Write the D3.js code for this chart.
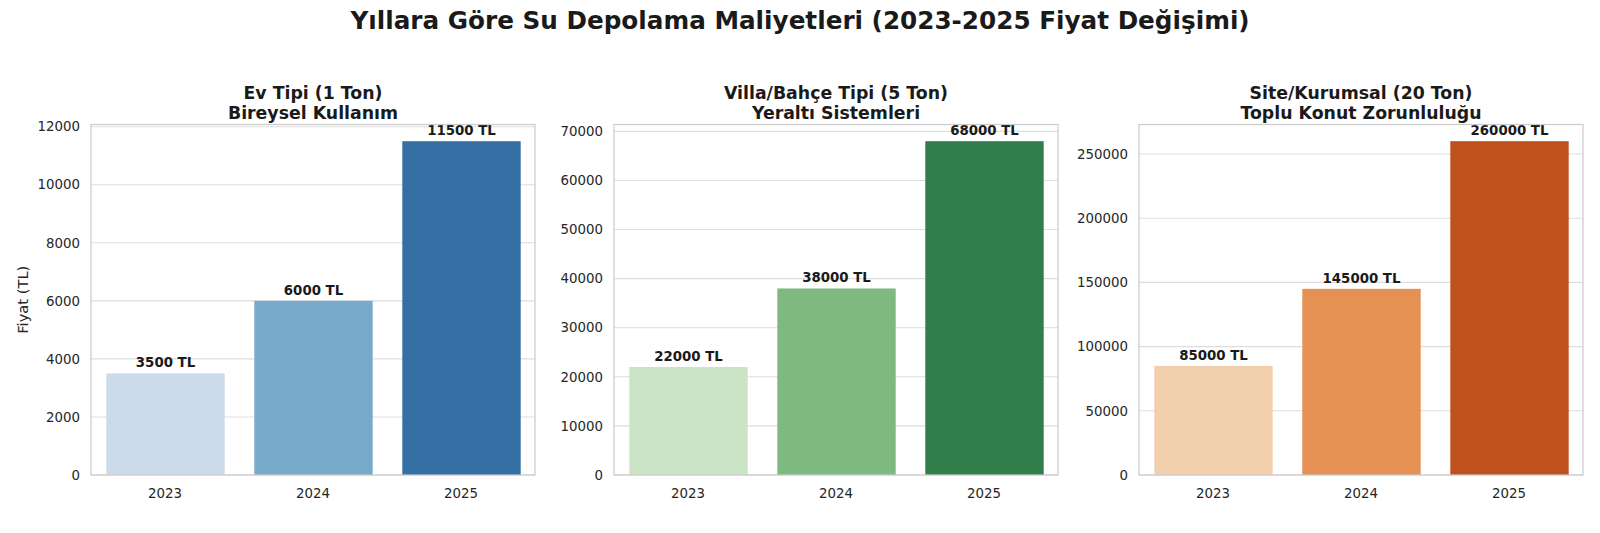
<!DOCTYPE html>
<html lang="tr">
<head>
<meta charset="UTF-8">
<title>Su Depolama Maliyetleri</title>
<script src="https://d3js.org/d3.v7.min.js"></script>
<style>
  body { margin: 0; background: #fff; }
  svg { display: block; font-family: "DejaVu Sans", sans-serif; }
  .tick text { fill: #262626; font-size: 13.33px; font-family: "DejaVu Sans", sans-serif; }
</style>
</head>
<body>
<svg id="chart" width="1600" height="533"></svg>
<script>
// veriler
const years = ["2023", "2024", "2025"];
const evValues = [3500, 6000, 11500];
const villaValues = [22000, 38000, 68000];
const siteValues = [85000, 145000, 260000];

const evTicks = [0, 2000, 4000, 6000, 8000, 10000, 12000];
const villaTicks = [0, 10000, 20000, 30000, 40000, 50000, 60000, 70000];
const siteTicks = [0, 50000, 100000, 150000, 200000, 250000];

const evColors = ["#cbdbea", "#78abc9", "#3470a3"];
const villaColors = ["#cae4c5", "#7eba80", "#307e4a"];
const siteColors = ["#f2d0ad", "#e59154", "#be511c"];

const panels = [
    { title: ["Ev Tipi (1 Ton)", "Bireysel Kullanım"], values: evValues, ticks: evTicks, colors: evColors, left: 91 },
    { title: ["Villa/Bahçe Tipi (5 Ton)", "Yeraltı Sistemleri"], values: villaValues, ticks: villaTicks, colors: villaColors, left: 614 },
    { title: ["Site/Kurumsal (20 Ton)", "Toplu Konut Zorunluluğu"], values: siteValues, ticks: siteTicks, colors: siteColors, left: 1139 }
];

const plotW = 444;
const plotTop = 124.5;
const plotBottom = 475;

const svg = d3.select("#chart");

// ana başlık
svg.append("text")
    .attr("x", 800)
    .attr("y", 29)
    .attr("text-anchor", "middle")
    .attr("font-size", "24.7px")
    .attr("font-weight", "bold")
    .attr("fill", "#1a1a1a")
    .text("Yıllara Göre Su Depolama Maliyetleri (2023-2025 Fiyat Değişimi)");

panels.forEach((p, i) => {
    const g = svg.append("g").attr("transform", `translate(${p.left},0)`);

    const x = d3.scaleBand()
        .domain(years)
        .range([0, plotW])
        .paddingInner(0.2)
        .paddingOuter(0.1);

    const y = d3.scaleLinear()
        .domain([0, d3.max(p.values) * 1.05])
        .range([plotBottom, plotTop]);

    // grid
    g.append("g")
        .selectAll("line")
        .data(p.ticks)
        .join("line")
        .attr("x1", 0)
        .attr("x2", plotW)
        .attr("y1", d => y(d))
        .attr("y2", d => y(d))
        .attr("stroke", "#dddddd")
        .attr("stroke-width", 1.1);

    // eksenler
    const yAxis = g.append("g")
        .call(d3.axisLeft(y).tickValues(p.ticks).tickSize(0).tickPadding(11).tickFormat(d3.format("d")));
    yAxis.select(".domain").remove();

    const xAxis = g.append("g")
        .attr("transform", `translate(0,${plotBottom})`)
        .call(d3.axisBottom(x).tickSize(0).tickPadding(14));
    xAxis.select(".domain").remove();

    // çubuklar
    g.selectAll("rect.bar")
        .data(p.values)
        .join("rect")
        .attr("class", "bar")
        .attr("x", (d, j) => x(years[j]) + 0.5)
        .attr("width", x.bandwidth())
        .attr("y", d => y(d))
        .attr("height", d => plotBottom - y(d))
        .attr("fill", (d, j) => p.colors[j]);

    // değer etiketleri
    g.selectAll("text.lbl")
        .data(p.values)
        .join("text")
        .attr("class", "lbl")
        .attr("x", (d, j) => x(years[j]) + x.bandwidth() / 2 + 0.5)
        .attr("y", d => y(d) - 6)
        .attr("text-anchor", "middle")
        .attr("font-size", "13.33px")
        .attr("font-weight", "bold")
        .attr("fill", "#1a1a1a")
        .text(d => d + " TL");

    // çerçeve
    g.append("rect")
        .attr("x", 0)
        .attr("y", plotTop)
        .attr("width", plotW)
        .attr("height", plotBottom - plotTop)
        .attr("fill", "none")
        .attr("stroke", "#cccccc")
        .attr("stroke-width", 1.25);

    // alt başlık
    g.append("text")
        .attr("x", plotW / 2)
        .attr("text-anchor", "middle")
        .attr("font-size", "17.33px")
        .attr("font-weight", "bold")
        .attr("fill", "#1a1a1a")
        .selectAll("tspan")
        .data(p.title)
        .join("tspan")
        .attr("x", plotW / 2)
        .attr("y", (d, k) => 98.5 + k * 20)
        .text(d => d);

    if (i === 0) {
        g.append("text")
            .attr("transform", `translate(${27.5 - p.left},${(plotTop + plotBottom) / 2}) rotate(-90)`)
            .attr("text-anchor", "middle")
            .attr("font-size", "14.67px")
            .attr("fill", "#262626")
            .text("Fiyat (TL)");
    }
});
</script>
</body>
</html>
